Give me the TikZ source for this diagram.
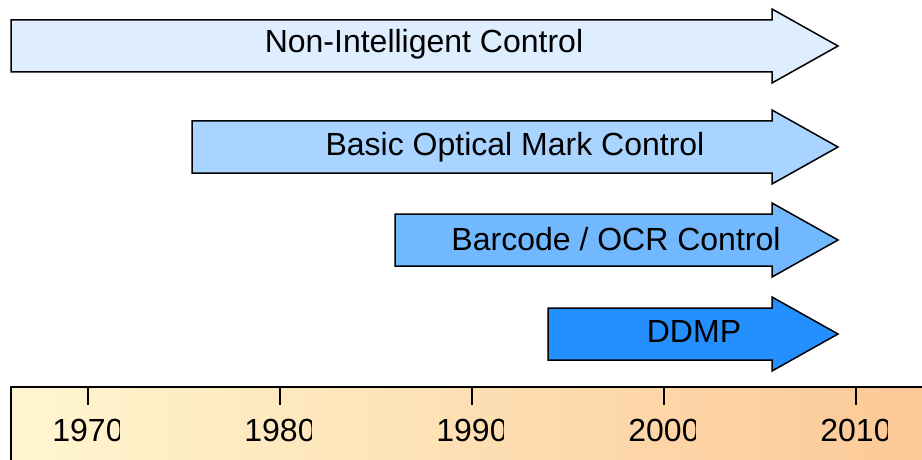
\documentclass[tikz,border=0pt]{standalone}
\usepackage{fontspec}
\setmainfont{Liberation Sans}
\definecolor{arrowA}{RGB}{222,238,255}
\definecolor{arrowB}{RGB}{168,212,255}
\definecolor{arrowC}{RGB}{114,184,255}
\definecolor{arrowD}{RGB}{36,144,255}
\definecolor{barleft}{RGB}{255,246,208}
\definecolor{barright}{RGB}{252,200,150}
\tikzset{
  phasearrow/.style={draw=black, line width=1.5pt, line join=miter},
  phaselabel/.style={anchor=base, inner sep=0pt, font=\fontsize{32}{38}\selectfont},
  yearlabel/.style={anchor=base, inner sep=0pt, font=\fontsize{32}{38}\selectfont},
  yeartick/.style={line width=2pt},
}
% block arrow: start x, centre y, fill colour; notch at x=772, tip at x=838
\newcommand{\phasebar}[3]{%
  \path[phasearrow, fill=#3]
    (#1,#2-26) -- (772,#2-26) -- (772,#2-37) -- (838,#2)
    -- (772,#2+37) -- (772,#2+26) -- (#1,#2+26) -- cycle;}
\begin{document}
\begin{tikzpicture}[x=1pt,y=-1pt]
  \useasboundingbox (0,0) rectangle (922,460);
  \clip (0,0) rectangle (922,460);

  % phases
  \phasebar{11}{46}{arrowA}
  \phasebar{192}{147}{arrowB}
  \phasebar{395}{240}{arrowC}
  \phasebar{548}{334}{arrowD}

  \node[phaselabel] (nonint) at (424,53) {Non-Intelligent Control};
  \node[phaselabel] (optical) at (515,155) {Basic Optical Mark Control};
  \node[phaselabel] (barcode) at (616,250) {Barcode / OCR Control};
  \node[phaselabel] (ddmp) at (694,342) {DDMP};

  % time axis
  \shade[left color=barleft, right color=barright] (11,387) rectangle (930,470);
  \draw[line width=2pt] (11,470) -- (11,387) -- (930,387);

  \foreach \yr/\xx in {1970/88, 1980/280, 1990/472, 2000/664, 2010/856}{
    \draw[yeartick] (\xx,387) -- (\xx,405);
    \begin{scope}
      \clip (\xx-40,395) rectangle (\xx+31,460);
      \node[yearlabel] (yr\yr) at (\xx,441) {\yr};
    \end{scope}
  }
\end{tikzpicture}
\end{document}
